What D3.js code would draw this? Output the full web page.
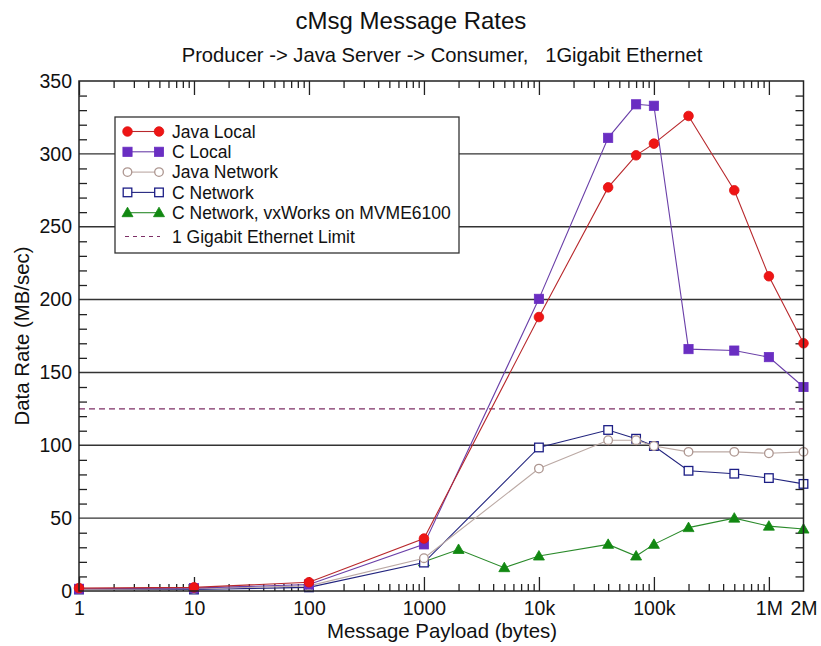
<!DOCTYPE html>
<html><head><meta charset="utf-8">
<script src="https://cdn.jsdelivr.net/npm/d3@7"></script>
<style>
html,body{margin:0;padding:0;background:#fff;}
svg{display:block;font-family:"Liberation Sans",Arial,Helvetica,sans-serif;}
</style></head>
<body>
<svg id="chart" width="821" height="646"></svg>
<script>
// ---------- data ----------
const payloads = [1, 10, 100, 1000, 10000, 40000, 70000, 100000, 200000, 500000, 1000000, 2000000];
const javaLocal   = [2, 2.5, 6, 36, 188, 277, 299, 307, 326, 275, 216, 170];
const cLocal      = [1.5, 2, 4.5, 32, 200.5, 311, 334, 333, 166, 165, 160.5, 140];
const javaNetwork = [1, 1.5, 3.5, 22.5, 84, 103.5, 103.5, 99.5, 95.5, 95.5, 94.5, 95.5];
const cNetwork    = [1, 1, 2.5, 19.5, 98.5, 110.5, 104.5, 99.5, 82.5, 80.5, 77.5, 73.5];
const vxPayloads  = [1000, 2000, 5000, 10000, 40000, 70000, 100000, 200000, 500000, 1000000, 2000000];
const vxWorks     = [20, 28.5, 16, 24, 32, 24, 32, 43.5, 50, 44.5, 42.5];
const ethernetLimit = 125;

const xTickValues = [1, 10, 100, 1000, 10000, 100000, 1000000, 2000000];
const xTickLabels = ["1", "10", "100", "1000", "10k", "100k", "1M", "2M"];
const yTickValues = [0, 50, 100, 150, 200, 250, 300, 350];

const seriesNames = ["Java Local", "C Local", "Java Network", "C Network", "C Network, vxWorks on MVME6100", "1 Gigabit Ethernet Limit"];

// ---------- layout ----------
const L = 79, R = 803.5, T = 81, B = 591;
const svg = d3.select("#chart");
const x = d3.scaleLog().domain([1, 2000000]).range([L, R]);
const y = d3.scaleLinear().domain([0, 350]).range([B, T]);

const style = {
  "Java Local":   {line: "#b8282c", fill: "#ee1515", stroke: "#e01010", shape: "circle", open: false},
  "C Local":      {line: "#6a3fa8", fill: "#6a2ec2", stroke: "#6a2ec2", shape: "square", open: false},
  "Java Network": {line: "#bba9a4", fill: "#fff",    stroke: "#ad9690", shape: "circle", open: true},
  "C Network":    {line: "#22247e", fill: "#fff",    stroke: "#1c1e86", shape: "square", open: true},
  "C Network, vxWorks on MVME6100": {line: "#2a8a2a", fill: "#118811", stroke: "#118811", shape: "triangle", open: false}
};

// titles
svg.append("text").attr("x", 411).attr("y", 29).attr("text-anchor", "middle")
  .attr("font-size", 24).attr("fill", "#111").text("cMsg Message Rates");
svg.append("text").attr("x", 442).attr("y", 62).attr("text-anchor", "middle")
  .attr("font-size", 20.2).attr("fill", "#111").text("Producer -> Java Server -> Consumer,\u00a0\u00a0\u00a01Gigabit Ethernet");

// gridlines
svg.append("g").selectAll("line").data(yTickValues.filter(v => v > 0 && v < 350)).join("line")
  .attr("x1", L).attr("x2", R).attr("y1", d => y(d)).attr("y2", d => y(d))
  .attr("stroke", "#333").attr("stroke-width", 1.4);

// minor value lists
const xMinor = [];
for (let d = 1; d < 2000000; d *= 10) for (let m = 2; m <= 9; m++) { const v = d * m; if (v < 2000000) xMinor.push(v); }
const xMajor = xTickValues.filter(v => v < 2000000);
const yMinor = d3.range(10, 350, 10).filter(v => v % 50 !== 0);

function clean(g) { g.select(".domain").remove(); g.selectAll("line").attr("stroke", "#222").attr("stroke-width", 1.3); }

// bottom axis with labels
svg.append("g").attr("transform", `translate(0,${B})`)
  .call(d3.axisBottom(x).tickValues(xTickValues).tickFormat((d, i) => xTickLabels[i]).tickSizeInner(0).tickSizeOuter(0).tickPadding(10))
  .call(g => { g.select(".domain").remove(); g.selectAll("text").attr("font-size", 19.5).attr("fill", "#111").attr("font-family", null); });
svg.append("g").attr("transform", `translate(0,${B})`)
  .call(d3.axisBottom(x).tickValues(xMajor).tickFormat("").tickSizeInner(-14).tickSizeOuter(0)).call(clean);
svg.append("g").attr("transform", `translate(0,${B})`)
  .call(d3.axisBottom(x).tickValues(xMinor).tickFormat("").tickSizeInner(-7).tickSizeOuter(0)).call(clean);
svg.append("g").attr("transform", `translate(0,${T})`)
  .call(d3.axisTop(x).tickValues(xMajor).tickFormat("").tickSizeInner(-14).tickSizeOuter(0)).call(clean);
svg.append("g").attr("transform", `translate(0,${T})`)
  .call(d3.axisTop(x).tickValues(xMinor).tickFormat("").tickSizeInner(-7).tickSizeOuter(0)).call(clean);

// left axis labels
svg.append("g").attr("transform", `translate(${L},0)`)
  .call(d3.axisLeft(y).tickValues(yTickValues).tickSizeInner(0).tickSizeOuter(0).tickPadding(7))
  .call(g => { g.select(".domain").remove(); g.selectAll("text").attr("font-size", 19.5).attr("fill", "#111").attr("font-family", null); });
svg.append("g").attr("transform", `translate(${L},0)`)
  .call(d3.axisLeft(y).tickValues(yMinor).tickFormat("").tickSizeInner(-8).tickSizeOuter(0)).call(clean);
svg.append("g").attr("transform", `translate(${R},0)`)
  .call(d3.axisRight(y).tickValues(yMinor).tickFormat("").tickSizeInner(-8).tickSizeOuter(0)).call(clean);

// axis titles
svg.append("text").attr("x", 442).attr("y", 638).attr("text-anchor", "middle")
  .attr("font-size", 20.4).attr("fill", "#111").text("Message Payload (bytes)");
svg.append("text").attr("transform", "translate(29,336) rotate(-90)").attr("text-anchor", "middle")
  .attr("font-size", 20.4).attr("fill", "#111").text("Data Rate (MB/sec)");

// ethernet limit
svg.append("line").attr("x1", L).attr("x2", R).attr("y1", y(ethernetLimit)).attr("y2", y(ethernetLimit))
  .attr("stroke", "#7d2f66").attr("stroke-width", 1.2).attr("stroke-dasharray", "6,4");

// markers
function marker(g, name, cx, cy) {
  const s = style[name];
  let el;
  if (s.shape === "circle") {
    el = g.append("circle").attr("cx", cx).attr("cy", cy).attr("r", s.open ? 4.3 : 4.8);
  } else if (s.shape === "square") {
    const h = s.open ? 4.3 : 4.6;
    el = g.append("rect").attr("x", cx - h).attr("y", cy - h).attr("width", 2 * h).attr("height", 2 * h);
  } else {
    el = g.append("path").attr("d", `M${cx},${cy - 5.5}L${cx + 5.5},${cy + 4}L${cx - 5.5},${cy + 4}Z`);
  }
  el.attr("fill", s.fill).attr("stroke", s.stroke).attr("stroke-width", s.open ? 1.3 : 0.8);
}

const plotSeries = [
  {name: "C Network, vxWorks on MVME6100", xs: vxPayloads, ys: vxWorks},
  {name: "C Network", xs: payloads, ys: cNetwork},
  {name: "Java Network", xs: payloads, ys: javaNetwork},
  {name: "C Local", xs: payloads, ys: cLocal},
  {name: "Java Local", xs: payloads, ys: javaLocal}
];
const lineGen = d3.line().x(d => x(d[0])).y(d => y(d[1]));
plotSeries.forEach(s => {
  const pts = s.xs.map((v, i) => [v, s.ys[i]]);
  const g = svg.append("g");
  g.append("path").attr("d", lineGen(pts)).attr("fill", "none")
    .attr("stroke", style[s.name].line).attr("stroke-width", 1.1);
  pts.forEach(p => marker(g, s.name, x(p[0]), y(p[1])));
});

// frame
svg.append("rect").attr("x", L).attr("y", T).attr("width", R - L).attr("height", B - T)
  .attr("fill", "none").attr("stroke", "#222").attr("stroke-width", 1.5);

// legend
const lg = svg.append("g");
lg.append("rect").attr("x", 115).attr("y", 117).attr("width", 344).attr("height", 136)
  .attr("fill", "#fff").attr("stroke", "#333").attr("stroke-width", 1.3);
seriesNames.forEach((name, i) => {
  const ry = i < 5 ? 131.5 + i * 20.3 : 236.5;
  if (i < 5) {
    lg.append("line").attr("x1", 127.5).attr("x2", 159).attr("y1", ry).attr("y2", ry)
      .attr("stroke", style[name].line).attr("stroke-width", 1.1);
    marker(lg, name, 127.5, ry);
    marker(lg, name, 159, ry);
  } else {
    lg.append("line").attr("x1", 125).attr("x2", 160).attr("y1", ry).attr("y2", ry)
      .attr("stroke", "#7d2f66").attr("stroke-width", 1.2).attr("stroke-dasharray", "4,4");
  }
  lg.append("text").attr("x", 172).attr("y", ry).attr("dy", "0.36em")
    .attr("font-size", 17.5).attr("fill", "#111").text(name);
});
</script>
</body></html>
